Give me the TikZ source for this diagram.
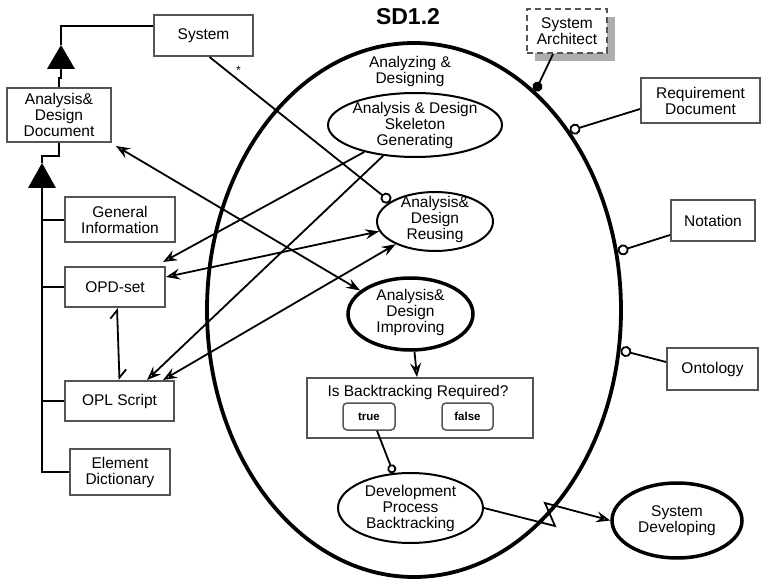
\documentclass[tikz,border=0pt]{standalone}
\usepackage{fontspec}
\setmainfont{Liberation Sans}
\usetikzlibrary{arrows.meta,shapes.geometric,shadows}
\definecolor{boxgray}{gray}{0.33}
\definecolor{shadowgray}{gray}{0.68}
\begin{document}
\begin{tikzpicture}[x=1pt,y=-1pt,
  txt/.style={font=\fontsize{15.5}{16}\selectfont, align=center, inner sep=0pt},
  obj/.style={txt, rectangle, draw=boxgray, line width=2pt, fill=white},
  proc/.style={ellipse, draw=black, line width=2pt, fill=white, inner sep=0pt},
  thickproc/.style={proc, line width=3.5pt},
  link/.style={line width=1.8pt},
  opentip/.style={-{Stealth[open, length=14pt, width=11pt, inset=5pt, fill=white]}},
  effect/.style={{Stealth[open, length=14pt, width=11pt, inset=5pt, fill=white]}-{Stealth[length=14pt, width=10pt, inset=5pt]}},
  instr/.style={-{Circle[length=11pt, fill=white]}},
  agent/.style={-{Circle[length=10pt]}},
  tagged/.style={{Straight Barb[harpoon, length=8pt, width=14pt]}-{Straight Barb[harpoon, length=8pt, width=14pt]}}
]
\useasboundingbox (0,0) rectangle (761,580);

% title
\node[font=\fontsize{23}{26}\bfseries\selectfont, inner sep=0pt] (title) at (408,17) {SD1.2};

% the zoomed-in process
\node[thickproc, line width=3.8pt, minimum width=414pt, minimum height=534pt, fill=none] (main) at (414,310) {};
\node[txt] (mainlbl) at (410,71) {Analyzing \&\\Designing};

% objects on the left
\node[obj, minimum width=99pt, minimum height=41pt] (sys) at (203.5,35.5) {System};
\node[obj, minimum width=104pt, minimum height=54pt] (add) at (59,115) {Analysis\&\\Design\\Document};
\node[obj, minimum width=110pt, minimum height=45pt] (gen) at (120,220) {General\\Information};
\node[obj, minimum width=100pt, minimum height=40pt] (opd) at (115,287) {OPD-set};
\node[obj, minimum width=109pt, minimum height=40pt] (opl) at (119.5,401) {OPL Script};
\node[obj, minimum width=100pt, minimum height=46pt] (eld) at (120,472) {Element\\Dictionary};

% objects on the right
\node[obj, minimum width=119pt, minimum height=45pt] (req) at (700.5,100.5) {Requirement\\Document};
\node[obj, minimum width=84pt, minimum height=41pt] (nota) at (713,220.5) {Notation};
\node[obj, minimum width=91pt, minimum height=42pt] (onto) at (712.5,369) {Ontology};
\node[obj, draw=boxgray, dashed, dash pattern=on 6pt off 4pt, line width=2.2pt,
      minimum width=80pt, minimum height=44pt,
      drop shadow={shadow xshift=8pt, shadow yshift=-8pt, fill=shadowgray, opacity=1}]
      (arch) at (567,31) {System\\Architect};

% subprocesses
\node[proc, minimum width=174pt, minimum height=64pt,
      label={[txt]center:{Analysis \& Design\\Skeleton\\Generating}}] (skel) at (415,125) {};
\node[proc, minimum width=116pt, minimum height=59pt,
      label={[txt, yshift=2pt]center:{Analysis\&\\Design\\Reusing}}] (reuse) at (435,221.5) {};
\node[thickproc, minimum width=125pt, minimum height=72pt,
      label={[txt, yshift=2pt]center:{Analysis\&\\Design\\Improving}}] (impr) at (410.5,314) {};
\node[proc, minimum width=145pt, minimum height=70pt,
      label={[txt]center:{Development\\Process\\Backtracking}}] (dpb) at (410.5,508) {};
\node[thickproc, minimum width=130pt, minimum height=75pt,
      label={[txt]center:{System\\Developing}}] (sdev) at (677,520.5) {};

% decision object with its two states
\node[rectangle, draw=boxgray, line width=2pt, fill=white, minimum width=226pt, minimum height=60pt] (dec) at (420,408) {};
\node[txt] (declbl) at (418,392) {Is Backtracking Required?};
\node[rectangle, rounded corners=4pt, draw=boxgray, line width=1.5pt, minimum width=52pt, minimum height=27pt,
      font=\fontsize{11.5}{13}\bfseries\selectfont, inner sep=0pt] (tru) at (369,416.5) {true};
\node[rectangle, rounded corners=4pt, draw=boxgray, line width=1.5pt, minimum width=51pt, minimum height=27pt,
      font=\fontsize{11.5}{13}\bfseries\selectfont, inner sep=0pt] (fal) at (467.5,416.5) {false};

% aggregation: System consists of the document
\coordinate (agg1) at (61,45);
\coordinate (agg1b) at (61,69);
\draw[link] ([yshift=9.5pt]sys.west) -| (agg1);
\fill (agg1) -- ++(-14,24) -- ++(28,0) -- cycle;
\draw[link] (agg1b) -- ++(0,9) -| (add.north);

% aggregation: the document consists of its parts
\coordinate (agg2) at (42,163);
\coordinate (spine) at (42,188);
\draw[link] (add.south) -- ++(0,13) -| (agg2);
\fill (agg2) -- ++(-14,25) -- ++(28,0) -- cycle;
\draw[link] (spine) |- (eld.west);
\draw[link] (gen.west -| spine) -- (gen.west);
\draw[link] (opd.west -| spine) -- (opd.west);
\draw[link] (opl.west -| spine) -- (opl.west);

% tagged structural link between OPD-set and OPL Script
\draw[link, tagged] ([xshift=2pt]opd.south) -- (opl.north);

% instrument: System
\draw[link, instr] ([xshift=6pt]sys.south) -- node[pos=0.1, xshift=11pt, yshift=1pt, font=\fontsize{12}{13}\selectfont, inner sep=0pt] (star) {*} (reuse.156);

% results of skeleton generating
\draw[link, opentip] (skel.208) -- ([xshift=-3pt, yshift=4pt]opd.north east);
\draw[link, opentip] (skel.224) -- ([xshift=27.5pt]opl.north);

% effects
\draw[link, effect] ([yshift=10pt]opd.east) -- (reuse.190);
\draw[link, effect] ([xshift=43.5pt]opl.north) -- (reuse.210);
\draw[link, effect] ([xshift=4pt, yshift=-3pt]add.south east) -- (impr.155);

% improving yields the decision
\draw[link, opentip] ([xshift=4pt]impr.south) -- ([xshift=-3pt]dec.north);

% condition on the state "true"
\draw[link, -{Circle[length=9pt, fill=white]}] ([xshift=8pt]tru.south) -- (dpb.116);

% invocation of System Developing
\coordinate (zz1) at (555,526);
\coordinate (zz2) at (545,503);
\draw[link, opentip] (dpb.east) -- (zz1) -- (zz2) -- (sdev.west);

% agent and instruments on the outer process
\draw[link, agent] ([xshift=-14pt]arch.south) -- (main.61);
\draw[link, instr] ([yshift=-8.5pt]req.west) -- (main.49);
\draw[link, instr] ([yshift=-14.5pt]nota.west) -- (main.16);
\draw[link, instr] ([yshift=7pt]onto.west) -- (main.349);
\end{tikzpicture}
\end{document}
